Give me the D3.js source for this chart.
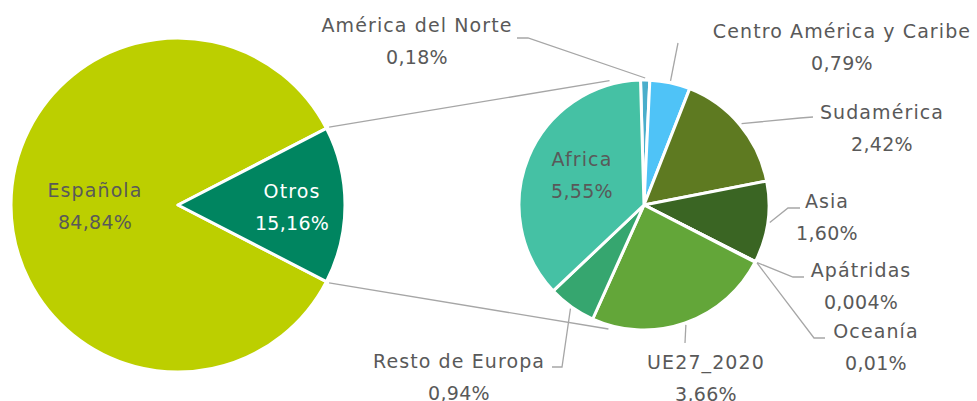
<!DOCTYPE html>
<html>
<head>
<meta charset="utf-8">
<script src="https://cdn.jsdelivr.net/npm/d3@7"></script>
<style>
  body { margin: 0; background: #fff; }
  svg text { font-family: "DejaVu Sans", sans-serif; font-size: 19px; fill: #595959; }
  svg tspan.name { letter-spacing: 1.1px; }
  svg tspan.pct { letter-spacing: 0.3px; }
</style>
</head>
<body>
<div id="chart"></div>
<script>
// main pie
const mainLabels = ["Española", "Otros"];
const mainValues = [84.84, 15.16];
const mainPct = ["84,84%", "15,16%"];
const mainColors = ["#bccf00", "#008560"];

// breakdown of "Otros"
const subLabels = ["América del Norte", "Centro América y Caribe", "Sudamérica", "Asia",
                   "Apátridas", "Oceanía", "UE27_2020", "Resto de Europa", "Africa"];
const subValues = [0.18, 0.79, 2.42, 1.60, 0.004, 0.01, 3.66, 0.94, 5.55];
const subPct = ["0,18%", "0,79%", "2,42%", "1,60%", "0,004%", "0,01%", "3,66%", "0,94%", "5,55%"];
const subColors = ["#4aaecb", "#4fc3f7", "#5e7a21", "#3a6523", "#2d5a1c", "#7fbf4f",
                   "#63a639", "#36a66f", "#45c1a4"];

const width = 977, height = 401;
const deg = Math.PI / 180;

// layout of the two pies
const L = {cx: 178, cy: 205, r: 167};
const R = {cx: 644, cy: 205, r: 125};

// label positions: x center, baseline of first line, connector points after the slice edge
const labelPos = {
  "América del Norte":       {x: 417, y: 32,  pts: [[528, 38], [517, 38]]},
  "Centro América y Caribe": {x: 842, y: 38,  pts: [[678, 43]]},
  "Sudamérica":              {x: 882, y: 119, pts: [[800, 118], [813, 117]]},
  "Asia":                    {x: 827, y: 208, pts: [[788, 208], [800, 208]]},
  "Apátridas":               {x: 861, y: 277, pts: [[793, 277], [804, 277]]},
  "Oceanía":                 {x: 876, y: 338, pts: [[814, 338], [825, 338]]},
  "UE27_2020":               {x: 706, y: 369, pts: [[685, 343]]},
  "Resto de Europa":         {x: 459, y: 368, pts: [[562, 367], [552, 367]]},
  "Africa":                  {x: 582, y: 166, inside: true}
};
const lineGap = 32;

const svg = d3.select("#chart")
  .append("svg")
  .attr("width", width)
  .attr("height", height);

// left pie, "Otros" centred on the right side
const otrosShare = mainValues[1] / d3.sum(mainValues);
const mainStart = Math.PI / 2 + otrosShare * Math.PI;
const mainArcs = d3.pie().sort(null)
  .startAngle(mainStart).endAngle(mainStart + 2 * Math.PI)(mainValues);
const arcL = d3.arc().innerRadius(0).outerRadius(L.r);

// right pie
const subStart = -1.6 * deg;
const subArcs = d3.pie().sort(null)
  .startAngle(subStart).endAngle(subStart + 2 * Math.PI)(subValues);
const arcR = d3.arc().innerRadius(0).outerRadius(R.r);

const pt = (c, a, r) => { const p = d3.pointRadial(a, r); return [c.cx + p[0], c.cy + p[1]]; };

// lines joining the pies
const otros = mainArcs[1];
const joins = [
  [pt(L, otros.startAngle, L.r + 3), pt(R, -15.5 * deg, R.r + 4)],
  [pt(L, otros.endAngle, L.r + 3), pt(R, 196 * deg, R.r + 4)]
];
svg.selectAll(".join").data(joins).join("line")
  .attr("class", "join")
  .attr("x1", d => d[0][0]).attr("y1", d => d[0][1])
  .attr("x2", d => d[1][0]).attr("y2", d => d[1][1])
  .attr("stroke", "#a6a6a6").attr("stroke-width", 1.3);

svg.append("g")
  .attr("transform", `translate(${L.cx},${L.cy})`)
  .selectAll("path").data(mainArcs).join("path")
  .attr("d", arcL)
  .attr("fill", (d, i) => mainColors[i])
  .attr("stroke", "#fff").attr("stroke-width", 3).attr("stroke-linejoin", "round");

svg.append("g")
  .attr("transform", `translate(${R.cx},${R.cy})`)
  .selectAll("path").data(subArcs).join("path")
  .attr("d", arcR)
  .attr("fill", (d, i) => subColors[i])
  .attr("stroke", "#fff").attr("stroke-width", 3).attr("stroke-linejoin", "round");

function addLabel(x, y, name, pct, fill) {
  const t = svg.append("text")
    .attr("text-anchor", "middle")
    .style("fill", fill);
  t.append("tspan").attr("class", "name").attr("x", x).attr("y", y).text(name);
  t.append("tspan").attr("class", "pct").attr("x", x).attr("y", y + lineGap).text(pct);
}

// left pie labels
const mainLabelPos = [{x: 95, y: 197, fill: "#595959"}, {x: 292, y: 198, fill: "#fff"}];
mainLabels.forEach((name, i) => {
  addLabel(mainLabelPos[i].x, mainLabelPos[i].y, name, mainPct[i], mainLabelPos[i].fill);
});

// right pie connectors and labels
const line = d3.line();
subArcs.forEach((d, i) => {
  const name = subLabels[i];
  const p = labelPos[name];
  if (!p.inside) {
    const mid = (d.startAngle + d.endAngle) / 2;
    svg.append("path")
      .attr("d", line([pt(R, mid, R.r + 2), ...p.pts]))
      .attr("fill", "none")
      .attr("stroke", "#a6a6a6").attr("stroke-width", 1.3);
  }
  addLabel(p.x, p.y, name, subPct[i], "#595959");
});
</script>
</body>
</html>
